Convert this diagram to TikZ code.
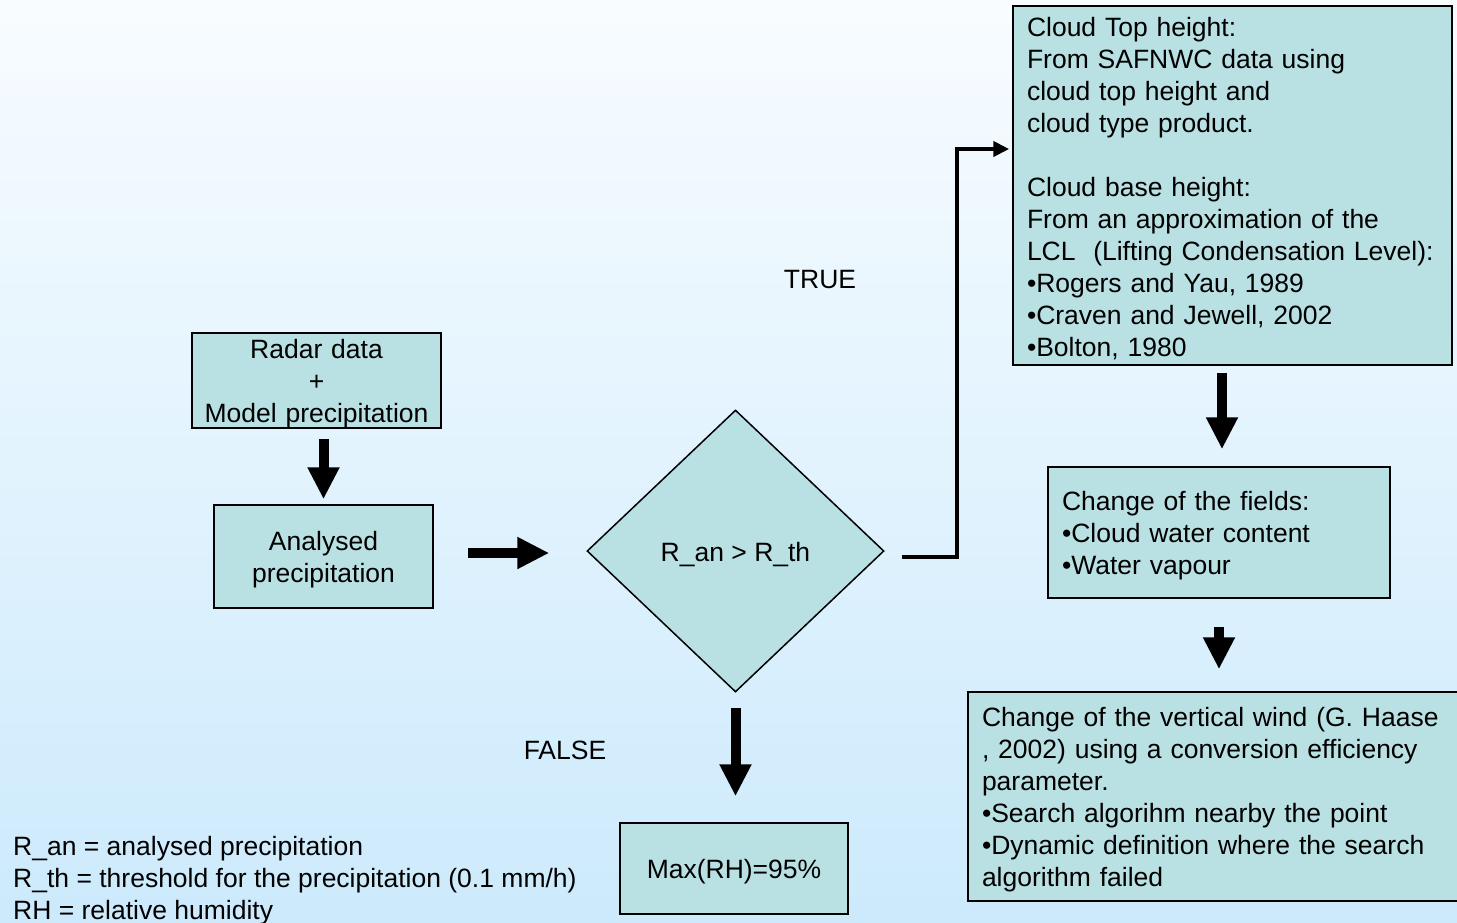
\documentclass[tikz,border=0pt]{standalone}
\usepackage{fontspec}
\setmainfont{Liberation Sans}
\usetikzlibrary{shapes.geometric,arrows.meta,calc}
\definecolor{boxfill}{RGB}{185,224,227}
\definecolor{bgtop}{RGB}{248,252,255}
\definecolor{bgbot}{RGB}{204,234,252}
\tikzset{
  txt/.style={font=\fontsize{26.5}{32}\selectfont, text=black},
  lower/.style={execute at begin node={\rule{0pt}{#1}}},
  procbox/.style={txt, draw=black, line width=1.5pt, fill=boxfill, inner sep=0pt, align=center, lower=25pt},
  listbox/.style={txt, draw=black, line width=1.5pt, fill=boxfill, inner xsep=14pt, inner ysep=0pt, align=left, lower=25pt},
  decbox/.style={txt, diamond, draw=black, line width=1.5pt, fill=boxfill, inner sep=0pt, minimum width=297pt, minimum height=282pt, lower=27pt},
  fat/.style={line width=10pt, -{Triangle[length=32pt,width=30pt]}},
  elbow/.style={line width=4pt, -{Triangle[length=16pt,width=15pt]}},
  lbl/.style={txt, inner sep=0pt}
}
\begin{document}
\begin{tikzpicture}[x=1pt,y=-1pt]
\shade[top color=bgtop, bottom color=bgbot] (0,0) rectangle (1457,922);
\useasboundingbox (0,0) rectangle (1457,922);

\node[procbox, text width=249pt, minimum height=95pt] (radar) at (316.5,380.5)
  {Radar data\\+\\Model precipitation};
\node[procbox, text width=219pt, minimum height=103pt] (anal) at (323.5,556.5)
  {Analysed\\precipitation};
\node[decbox] (dia) at (735.5,551) {R\_an > R\_th};
\node[procbox, lower=23pt, text width=228pt, minimum height=91pt] (maxrh) at (734,868.5) {Max(RH)=95\%};

\node[listbox, text width=411pt, minimum height=359pt] (cloud) at (1232.5,185.5)
  {Cloud Top height:\\From SAFNWC data using\\cloud top height and\\cloud type product.\\[32pt]Cloud base height:\\From an approximation of the\\LCL\ \ (Lifting Condensation Level):\\•Rogers and Yau, 1989\\•Craven and Jewell, 2002\\•Bolton, 1980};
\node[listbox, text width=314pt, minimum height=131pt] (change) at (1219,532.5)
  {Change of the fields:\\•Cloud water content\\•Water vapour};
\node[listbox, text width=474pt, minimum height=209pt] (wind) at (1219,796.5)
  {Change of the vertical wind (G. Haase\\, 2002) using a conversion efficiency\\parameter.\\•Search algorihm nearby the point\\•Dynamic definition where the search\\algorithm failed};

\node[lbl] (true) at (820,280) {TRUE};
\node[lbl] (false) at (565,750) {FALSE};
\node[lbl, anchor=north west, align=left] (legend) at (13,836)
  {R\_an = analysed precipitation\\R\_th = threshold for the precipitation (0.1 mm/h)\\RH = relative humidity};

\draw[fat] ($(radar.south -| anal.north)+(0,10)$) -- ($(anal.north)+(0,-5)$);
\draw[fat] ($(anal.east)+(34,-3.5)$) -- ($(dia.west)+(-37,2)$);
\draw[elbow] ($(dia.east)+(17,6)$) -- ++(55,0) |- ($(cloud.west)+(-3,-36.5)$);
\draw[fat] ($(dia.south)+(0,15)$) -- ($(maxrh.north -| dia.south)+(0,-26)$);
\draw[fat] ($(cloud.south -| change.north)+(3,7)$) -- ($(change.north)+(3,-17)$);
\draw[fat] ($(change.south)+(0,28)$) -- ($(wind.north -| change.south)+(0,-22)$);
\end{tikzpicture}
\end{document}
